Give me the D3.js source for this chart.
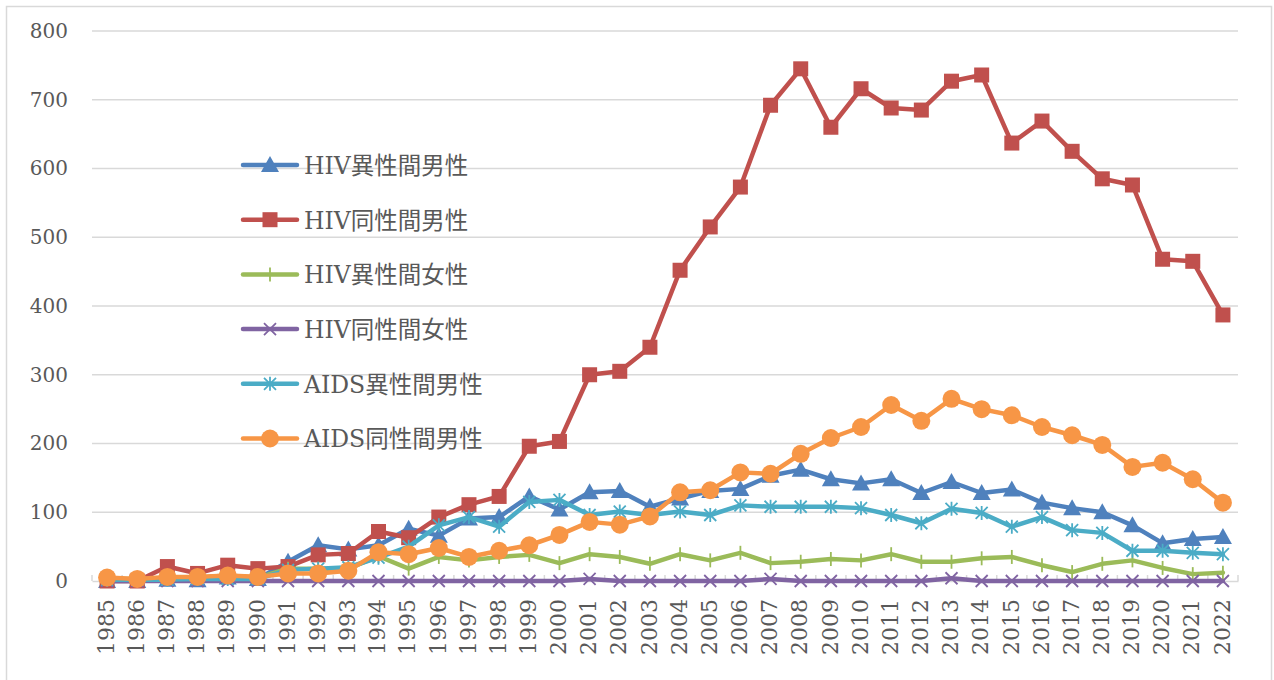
<!DOCTYPE html>
<html>
<head>
<meta charset="utf-8">
<script src="https://cdn.jsdelivr.net/npm/d3@7"></script>
<style>
  body { margin: 0; background: #fff; }
  svg text { font-family: "DejaVu Serif", "Noto Sans CJK JP", serif; fill: #595959; }
</style>
</head>
<body>
<svg id="chart" width="1274" height="680"></svg>
<script>
const years = d3.range(1985, 2023).map(String);

const hivHeteroMale = [0, 0, 2, 1, 5, 3, 28, 52, 46, 52, 76, 66, 91, 93, 123, 104, 129, 131, 108, 120, 131, 134, 153, 162, 148, 142, 148, 128, 144, 128, 133, 114, 106, 100, 81, 55, 61, 64];
const hivHomoMale = [0, 0, 21, 11, 23, 18, 21, 38, 40, 72, 63, 93, 111, 123, 196, 203, 300, 305, 340, 452, 515, 573, 692, 745, 660, 716, 688, 685, 727, 736, 637, 669, 625, 585, 576, 468, 465, 387];
const hivHeteroFemale = [3, 3, 4, 5, 8, 5, 18, 18, 18, 36, 18, 35, 30, 35, 38, 26, 39, 35, 25, 39, 30, 41, 26, 28, 32, 30, 39, 28, 28, 33, 35, 23, 13, 25, 30, 19, 10, 12];
const hivHomoFemale = [0, 0, 0, 0, 0, 0, 0, 0, 0, 0, 0, 0, 0, 0, 0, 0, 3, 0, 0, 0, 0, 0, 3, 0, 0, 0, 0, 0, 4, 0, 0, 0, 0, 0, 0, 0, 0, 0];
const aidsHeteroMale = [2, 2, 2, 3, 3, 3, 16, 18, 20, 34, 50, 81, 93, 79, 115, 118, 96, 101, 96, 101, 96, 110, 108, 108, 108, 106, 96, 84, 105, 99, 79, 93, 74, 70, 44, 44, 41, 39];
const aidsHomoMale = [5, 3, 6, 6, 8, 6, 11, 11, 15, 42, 39, 48, 35, 44, 52, 67, 86, 82, 94, 129, 132, 158, 156, 185, 208, 224, 256, 233, 265, 250, 241, 224, 212, 198, 166, 172, 148, 114];

const seriesNames = ["HIV異性間男性", "HIV同性間男性", "HIV異性間女性", "HIV同性間女性", "AIDS異性間男性", "AIDS同性間男性"];
const seriesValues = [hivHeteroMale, hivHomoMale, hivHeteroFemale, hivHomoFemale, aidsHeteroMale, aidsHomoMale];
const seriesColors = ["#4f81bd", "#c0504d", "#9bbb59", "#8064a2", "#4bacc6", "#f79646"];
const seriesMarkers = ["triangle", "square", "plus", "cross", "asterisk", "circle"];
const yTicks = [0, 100, 200, 300, 400, 500, 600, 700, 800];

const svg = d3.select("#chart");

// outer frame
svg.append("rect")
  .attr("x", 6.5).attr("y", 6.5)
  .attr("width", 1265).attr("height", 680)
  .attr("fill", "none")
  .attr("stroke", "#d9d9d9")
  .attr("stroke-width", 1.5);

const plot = { left: 92, right: 1238, top: 31, bottom: 581 };

const x = d3.scaleBand().domain(years).range([plot.left, plot.right]).padding(0);
const y = d3.scaleLinear().domain([0, 800]).range([plot.bottom, plot.top]);

// grid
svg.append("g")
  .selectAll("line")
  .data(yTicks.filter(d => d > 0))
  .join("line")
  .attr("x1", plot.left).attr("x2", plot.right)
  .attr("y1", d => y(d)).attr("y2", d => y(d))
  .attr("stroke", "#d9d9d9")
  .attr("stroke-width", 1.5);

// y axis labels
const yAxis = svg.append("g")
  .attr("transform", `translate(${plot.left - 24},0)`)
  .call(d3.axisLeft(y).tickValues(yTicks).tickSize(0).tickPadding(0));
yAxis.select(".domain").remove();
yAxis.selectAll("text")
  .attr("font-size", 20)
  .attr("font-family", null)
  .attr("fill", null);

// x axis
const xAxis = svg.append("g")
  .attr("transform", `translate(0,${plot.bottom})`)
  .call(d3.axisBottom(x).tickSize(0).tickPadding(0));
xAxis.select(".domain").attr("stroke", "#d9d9d9").attr("stroke-width", 1.5);
xAxis.selectAll(".tick line").remove();
xAxis.selectAll("text")
  .attr("font-size", 22)
  .attr("font-family", "'DejaVu Serif Condensed', 'DejaVu Serif', serif")
  .attr("fill", null)
  .attr("text-anchor", "end")
  .attr("dy", "0.35em")
  .attr("y", 0)
  .attr("transform", "translate(-1,18) rotate(-90)");

// ticks between categories
svg.append("g")
  .selectAll("line")
  .data(years.concat(["end"]))
  .join("line")
  .attr("x1", (d, i) => plot.left + i * x.step())
  .attr("x2", (d, i) => plot.left + i * x.step())
  .attr("y1", plot.bottom - 6).attr("y2", plot.bottom)
  .attr("stroke", "#d9d9d9")
  .attr("stroke-width", 1.5);

function drawMarker(g, type, color) {
  if (type === "triangle") {
    g.append("path").attr("d", "M0,-9L9,7L-9,7Z").attr("fill", color);
  } else if (type === "square") {
    g.append("rect").attr("x", -7.5).attr("y", -7.5).attr("width", 15).attr("height", 15).attr("fill", color);
  } else if (type === "circle") {
    g.append("circle").attr("r", 9).attr("fill", color);
  } else if (type === "plus") {
    g.append("path").attr("d", "M0,-7V7").attr("stroke", color).attr("stroke-width", 1.8);
  } else if (type === "cross") {
    g.append("path").attr("d", "M-6,-6L6,6M6,-6L-6,6").attr("stroke", color).attr("stroke-width", 1.8);
  } else if (type === "asterisk") {
    g.append("path").attr("d", "M-6,-6L6,6M6,-6L-6,6M0,-7V7").attr("stroke", color).attr("stroke-width", 1.8);
  }
}

const line = d3.line()
  .x((d, i) => x(years[i]) + x.bandwidth() / 2)
  .y(d => y(d));

seriesValues.forEach((vals, s) => {
  const g = svg.append("g");
  g.append("path")
    .datum(vals)
    .attr("d", line)
    .attr("fill", "none")
    .attr("stroke", seriesColors[s])
    .attr("stroke-width", 4.5)
    .attr("stroke-linejoin", "round")
    .attr("stroke-linecap", "round");
  vals.forEach((v, i) => {
    const m = g.append("g")
      .attr("transform", `translate(${x(years[i]) + x.bandwidth() / 2},${y(v)})`);
    drawMarker(m, seriesMarkers[s], seriesColors[s]);
  });
});

// legend
const legend = svg.append("g").attr("transform", "translate(241,165)");
seriesNames.forEach((name, s) => {
  const row = legend.append("g").attr("transform", `translate(0,${s * 54.7})`);
  row.append("line")
    .attr("x1", 2).attr("x2", 56)
    .attr("stroke", seriesColors[s])
    .attr("stroke-width", 4.5)
    .attr("stroke-linecap", "round");
  const m = row.append("g").attr("transform", "translate(29,0)");
  drawMarker(m, seriesMarkers[s], seriesColors[s]);
  row.append("text")
    .attr("x", 63)
    .attr("dy", "0.38em")
    .attr("font-size", 23.5)
    .text(name);
});
</script>
</body>
</html>
